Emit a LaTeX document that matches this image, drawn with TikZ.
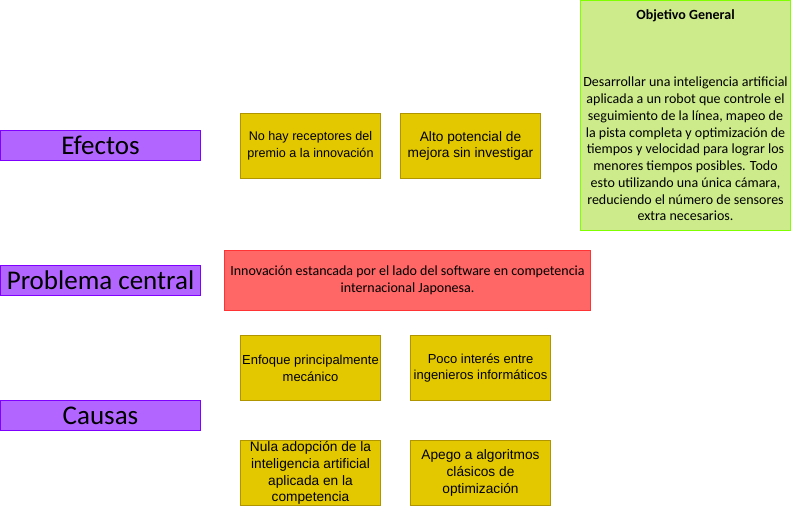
\documentclass[tikz,border=0pt]{standalone}
\usepackage{fontspec}
\setmainfont{Carlito}
\newfontfamily\arialfont{Liberation Sans}

\definecolor{rowfill}{HTML}{B266FF}
\definecolor{rowline}{HTML}{7F00FF}
\definecolor{itemfill}{HTML}{E3C800}
\definecolor{itemline}{HTML}{B09500}
\definecolor{corefill}{HTML}{FF6666}
\definecolor{coreline}{HTML}{FF3333}
\definecolor{goalfill}{HTML}{CDEB8B}
\definecolor{goalline}{HTML}{80FF00}

\tikzset{
  box/.style={draw, line width=1pt, inner sep=0pt, anchor=north west, align=center},
  rowtitle/.style={box, fill=rowfill, draw=rowline, minimum width=200pt, minimum height=30pt,
    font=\fontsize{27}{30}\selectfont},
  item/.style={box, fill=itemfill, draw=itemline, minimum width=140pt, minimum height=65pt,
    font=\arialfont\fontsize{12.6}{16.7}\selectfont},
  miditem/.style={item, font=\arialfont\fontsize{13}{16.7}\selectfont},
  bigitem/.style={item, font=\arialfont\fontsize{13.7}{16.8}\selectfont},
}

\begin{document}
\begin{tikzpicture}[x=1pt,y=-1pt]
\useasboundingbox (0,0) rectangle (791,507);

% filas
\node[rowtitle] (efectos) at (0,130) {Efectos};
\node[rowtitle] (problema) at (0,265) {Problema central};
\node[rowtitle] (causas) at (0,400) {Causas};

% efectos
\node[item] (receptores) at (240,113) {No hay receptores del\\premio a la innovación};
\node[bigitem] (potencial) at (400,113) {Alto potencial de\\mejora sin investigar};

% problema central
\node[box, fill=corefill, draw=coreline, minimum width=366pt, minimum height=60pt,
  font=\fontsize{14}{17}\selectfont] (central) at (224,250)
  {Innovación estancada por el lado del software en competencia\\internacional Japonesa.};

% causas
\node[miditem] (mecanico) at (240,335) {Enfoque principalmente\\mecánico};
\node[miditem] (interes) at (410,335) {Poco interés entre\\ingenieros informáticos};
\node[bigitem] (adopcion) at (240,440) {Nula adopción de la\\inteligencia artificial\\aplicada en la\\competencia};
\node[bigitem] (apego) at (410,440) {Apego a algoritmos\\clásicos de\\optimización};

% objetivo
\node[box, fill=goalfill, draw=goalline, minimum width=210pt, minimum height=230pt,
  font=\fontsize{14}{16.75}\selectfont] (objetivo) at (580,0)
  {\textbf{Objetivo General}\\[50.25pt]
   Desarrollar una inteligencia artificial\\
   aplicada a un robot que controle el\\
   seguimiento de la línea, mapeo de\\
   la pista completa y optimización de\\
   tiempos y velocidad para lograr los\\
   menores tiempos posibles. Todo\\
   esto utilizando una única cámara,\\
   reduciendo el número de sensores\\
   extra necesarios.};

\end{tikzpicture}
\end{document}
